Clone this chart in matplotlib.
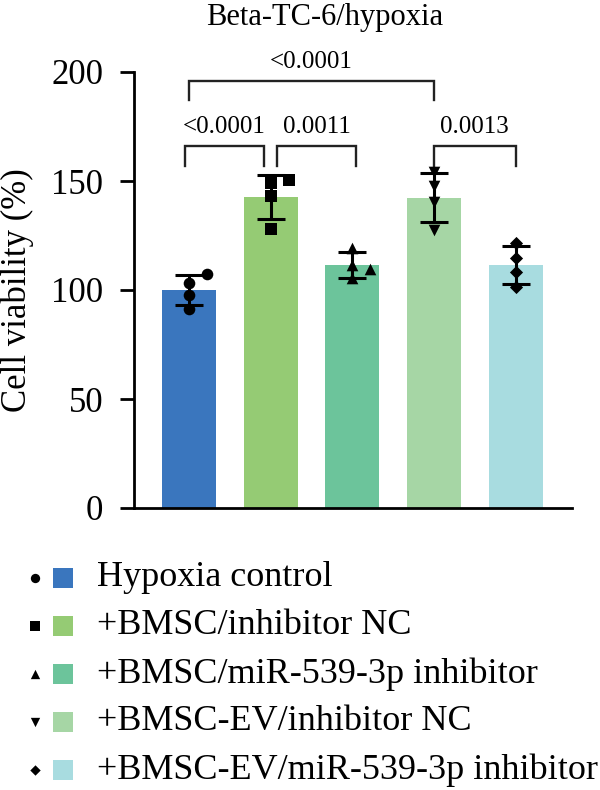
import numpy as np
import matplotlib
matplotlib.use("Agg")
import matplotlib.pyplot as plt
from matplotlib.patches import Rectangle

plt.rcParams['font.family'] = ['Liberation Serif', 'DejaVu Serif']

# data
groups = ["Hypoxia control", "+BMSC/inhibitor NC", "+BMSC/miR-539-3p inhibitor",
          "+BMSC-EV/inhibitor NC", "+BMSC-EV/miR-539-3p inhibitor"]
colors = ["#3a76be", "#95cb74", "#6cc49b", "#a6d6a5", "#a8dce0"]
markers = ["o", "s", "^", "v", "D"]
pts_hypoxia = [107.3, 103.2, 97.7, 91.3]
pts_bmsc_nc = [150.5, 149.0, 143.0, 128.0]
pts_bmsc_inh = [119.3, 111.5, 109.6, 105.5]
pts_ev_nc = [154.0, 147.7, 140.4, 127.5]
pts_ev_inh = [121.6, 114.7, 108.3, 101.4]
points = [pts_hypoxia, pts_bmsc_nc, pts_bmsc_inh, pts_ev_nc, pts_ev_inh]
jitter = [[0.22, 0, 0, 0], [0.22, 0, 0, 0], [0, 0, 0.22, 0], [0, 0, 0, 0], [0, 0, 0, 0]]

# brackets: x start, x end, y of bar, label
brackets = [(0.0, 3.0, 196, "<0.0001"),
            (-0.05, 0.92, 166, "<0.0001"),
            (1.08, 2.05, 166, "0.0011"),
            (3.0, 4.0, 166, "0.0013")]

W, H = 600, 790
fig = plt.figure(figsize=(W / 100, H / 100), dpi=100)
ax = fig.add_axes([134 / W, 1 - 508 / H, (572 - 134) / W, (508 - 72) / H])

x = np.arange(len(groups))
means = [np.mean(p) for p in points]
sds = [np.std(p, ddof=1) for p in points]

ax.bar(x, means, width=0.66, color=colors, zorder=1)
ax.errorbar(x, means, yerr=sds, fmt="none", ecolor="black", elinewidth=2.2,
            capsize=10, capthick=2.2, zorder=3)
for i, p in enumerate(points):
    ax.scatter(x[i] + np.array(jitter[i]), p, marker=markers[i], s=70 if markers[i] != "D" else 45,
               color="black", zorder=4, linewidths=0)

ax.set_xlim(-0.674, 4.69)
ax.set_ylim(0, 200)
ax.set_yticks([0, 50, 100, 150, 200])
ax.set_xticks([])
for s in ["top", "right"]:
    ax.spines[s].set_visible(False)
ax.spines["left"].set_linewidth(2)
ax.spines["bottom"].set_linewidth(2)
ax.tick_params(axis="y", length=10, width=2, labelsize=25, pad=12)
ax.set_ylabel("Cell viability (%)", fontsize=25)
ax.yaxis.set_label_coords(-0.228, 0.5)

for x1, x2, y, lab in brackets:
    ax.plot([x1, x1, x2, x2], [y - 9, y, y, y - 9], color="#222222", lw=1.7,
            clip_on=False, solid_joinstyle="miter")
    ax.text((x1 + x2) / 2, y + 3.5, lab, ha="center", va="bottom", fontsize=18)

fig.text(325 / W, 1 - 18 / H, "Beta-TC-6/hypoxia", ha="center", va="center", fontsize=22)

# legend
lg = fig.add_axes([0, 0, 1, 1], zorder=-1)
lg.set_xlim(0, W)
lg.set_ylim(H, 0)
lg.axis("off")
for i, g in enumerate(groups):
    yy = 578 + 48 * i
    lg.scatter([35], [yy], marker=markers[i], s=45 if markers[i] != "D" else 28,
               color="black", linewidths=0)
    lg.add_patch(Rectangle((53, yy - 10), 20, 20, color=colors[i], lw=0))
    lg.text(97, yy, g, ha="left", va="center", fontsize=26)

fig.savefig("out.png", dpi=100)
